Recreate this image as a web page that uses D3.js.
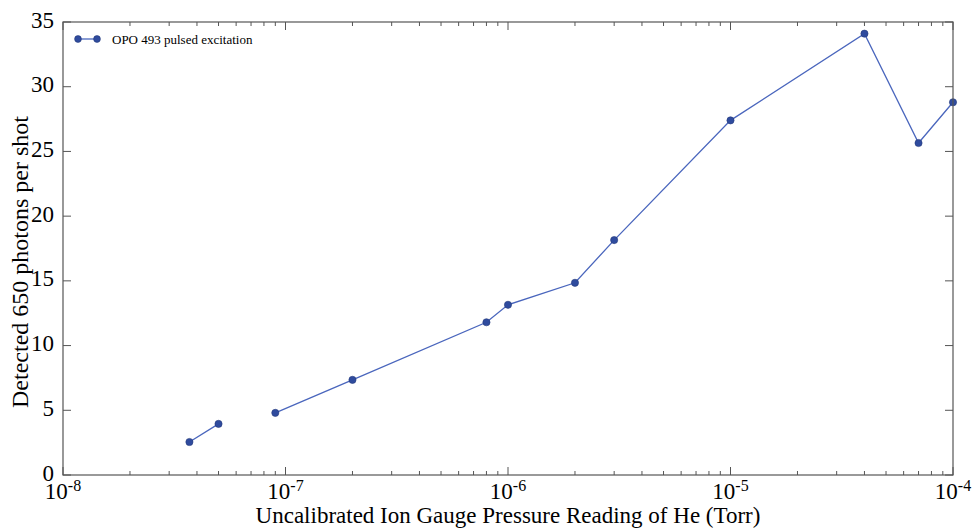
<!DOCTYPE html>
<html>
<head>
<meta charset="utf-8">
<script src="https://cdn.jsdelivr.net/npm/d3@7"></script>
<style>
  html, body { margin: 0; padding: 0; background: #fff; }
  svg text { font-family: "Liberation Serif", "Times New Roman", Times, "DejaVu Serif", serif; }
</style>
</head>
<body>
<svg id="chart" width="974" height="529"></svg>
<script>
// Pressure readings (Torr) and detected photons per shot; a null value breaks the line
const pressures = [3.7e-8, 5.0e-8, null, 9.0e-8, 2.0e-7, 8.0e-7, 1.0e-6, 2.0e-6, 3.0e-6, 1.0e-5, 4.0e-5, 7.0e-5, 1.0e-4];
const photons   = [2.55,   3.95,   null, 4.8,    7.35,   11.8,   13.15,  14.85,  18.15,  27.4,   34.1,   25.65,  28.8];
const xTickExponents = [-8, -7, -6, -5, -4];
const yTicks = [0, 5, 10, 15, 20, 25, 30, 35];
const seriesName = "OPO 493 pulsed excitation";

const FONT = '"Liberation Serif", "Times New Roman", Times, "DejaVu Serif", serif';

const svg = d3.select("#chart");
const margin = { left: 63, right: 21, top: 22, bottom: 54 };
const W = 974, H = 529;
const x0 = margin.left, x1 = W - margin.right, y0 = H - margin.bottom, y1 = margin.top;

const x = d3.scaleLog().domain([1e-8, 1e-4]).range([x0, x1]);
const y = d3.scaleLinear().domain([0, 35]).range([y0, y1]);

const axisColor = "#555";
const lineColor = "#4a66bd";
const markerFill = "#2f4b9e";

const data = pressures.map((p, i) => ({ p, v: photons[i] }));

// Line with a gap where a value is missing
const line = d3.line()
  .defined(d => d.p !== null && d.v !== null)
  .x(d => x(d.p))
  .y(d => y(d.v));

svg.append("path")
  .datum(data)
  .attr("d", line)
  .attr("fill", "none")
  .attr("stroke", lineColor)
  .attr("stroke-width", 1.3);

svg.append("g").selectAll("circle")
  .data(data.filter(d => d.p !== null))
  .join("circle")
  .attr("cx", d => x(d.p))
  .attr("cy", d => y(d.v))
  .attr("r", 3.6)
  .attr("fill", markerFill)
  .attr("stroke", "#24397a")
  .attr("stroke-width", 0.6);

// Minor log ticks (2..9 of each decade)
const minor = [];
for (let e = -8; e < -4; e++) {
  for (let m = 2; m <= 9; m++) minor.push(m * Math.pow(10, e));
}
const major = xTickExponents.map(e => Math.pow(10, e));

const ticks = svg.append("g").attr("stroke", axisColor).attr("stroke-width", 1);
// bottom & top x ticks, pointing inward
major.forEach(v => {
  ticks.append("line").attr("x1", x(v)).attr("x2", x(v)).attr("y1", y0).attr("y2", y0 - 8);
  ticks.append("line").attr("x1", x(v)).attr("x2", x(v)).attr("y1", y1).attr("y2", y1 + 8);
});
minor.forEach(v => {
  ticks.append("line").attr("x1", x(v)).attr("x2", x(v)).attr("y1", y0).attr("y2", y0 - 4);
  ticks.append("line").attr("x1", x(v)).attr("x2", x(v)).attr("y1", y1).attr("y2", y1 + 4);
});
// left & right y ticks, pointing inward
yTicks.forEach(v => {
  ticks.append("line").attr("x1", x0).attr("x2", x0 + 8).attr("y1", y(v)).attr("y2", y(v));
  ticks.append("line").attr("x1", x1).attr("x2", x1 - 8).attr("y1", y(v)).attr("y2", y(v));
});

// frame
svg.append("rect")
  .attr("x", x0).attr("y", y1)
  .attr("width", x1 - x0).attr("height", y0 - y1)
  .attr("fill", "none").attr("stroke", axisColor).attr("stroke-width", 1.2);

// y tick labels
svg.append("g").selectAll("text")
  .data(yTicks)
  .join("text")
  .attr("x", x0 - 9)
  .attr("y", d => y(d))
  .attr("dy", "0.24em")
  .attr("text-anchor", "end")
  .attr("font-family", FONT)
  .attr("font-size", 23)
  .attr("fill", "#000")
  .text(d => d);

// x tick labels as 10 with superscript exponent
const xl = svg.append("g").selectAll("text")
  .data(xTickExponents)
  .join("text")
  .attr("x", d => x(Math.pow(10, d)))
  .attr("y", y0 + 24)
  .attr("text-anchor", "middle")
  .attr("font-family", FONT)
  .attr("font-size", 23)
  .attr("fill", "#000");
xl.append("tspan").text("10");
xl.append("tspan").attr("dy", -8).attr("font-size", 16).text(d => d);

// axis titles
svg.append("text")
  .attr("x", (x0 + x1) / 2)
  .attr("y", H - 6)
  .attr("text-anchor", "middle")
  .attr("font-family", FONT)
  .attr("font-size", 23)
  .attr("fill", "#000")
  .text("Uncalibrated Ion Gauge Pressure Reading of He (Torr)");

svg.append("text")
  .attr("transform", `translate(28, 262) rotate(-90)`)
  .attr("text-anchor", "middle")
  .attr("font-family", FONT)
  .attr("font-size", 24)
  .attr("fill", "#000")
  .text("Detected 650 photons per shot");

// legend
const lg = svg.append("g").attr("transform", "translate(78, 39)");
lg.append("line").attr("x1", 0).attr("x2", 19).attr("y1", 0).attr("y2", 0)
  .attr("stroke", lineColor).attr("stroke-width", 1.3);
[0, 19].forEach(cx => lg.append("circle").attr("cx", cx).attr("cy", 0).attr("r", 3.4)
  .attr("fill", markerFill).attr("stroke", "#24397a").attr("stroke-width", 0.6));
lg.append("text").attr("x", 34).attr("y", 0).attr("dy", "0.35em")
  .attr("font-family", FONT)
  .attr("font-size", 13).attr("fill", "#000").text(seriesName);
</script>
</body>
</html>
